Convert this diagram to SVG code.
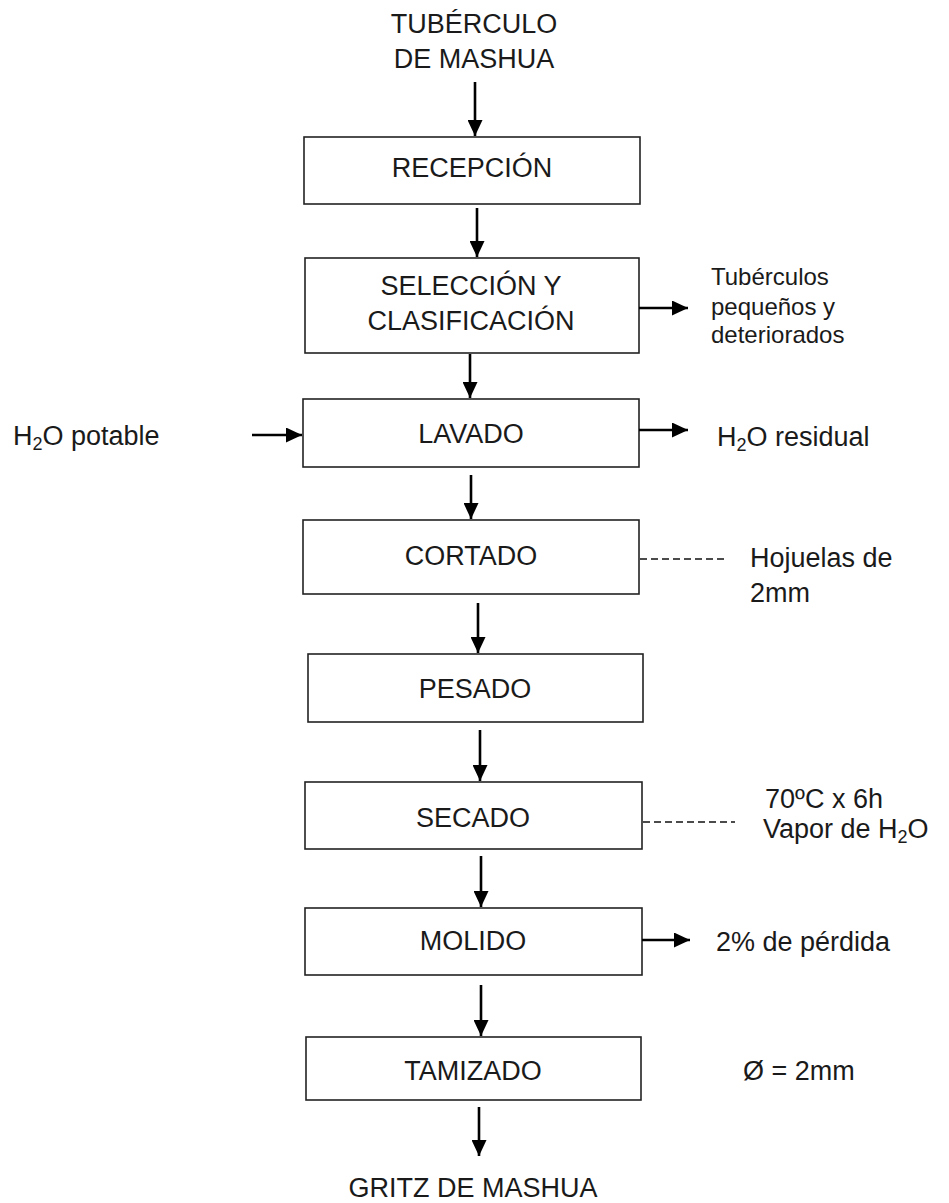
<svg xmlns="http://www.w3.org/2000/svg" width="949" height="1203" viewBox="0 0 949 1203">
<style>
.box{fill:#fff;stroke:#222;stroke-width:1.6}
.t{font-family:"Liberation Sans",Arial,sans-serif;font-size:27px;fill:#1a1a1a}
.tc{text-anchor:middle}
.s{font-size:24px}
.sub{font-size:18px}
.arr{stroke:#000;stroke-width:2.6;fill:none;marker-end:url(#ah)}
.dash{stroke:#111;stroke-width:1.4;stroke-dasharray:7 4;fill:none}
</style>
<defs>
<marker id="ah" markerUnits="userSpaceOnUse" markerWidth="17" markerHeight="15" refX="16" refY="7.5" orient="auto">
<path d="M0,0 L16,7.5 L0,15 Z" fill="#000"/>
</marker>
</defs>
<rect width="949" height="1203" fill="#fff"/>

<g id="inicio">
<text class="t tc" x="474" y="33">TUBÉRCULO</text>
<text class="t tc" x="474" y="68">DE MASHUA</text>
</g>
<g id="recepcion">
<rect class="box" x="304" y="137" width="336" height="67"/>
<text class="t tc" x="472" y="177">RECEPCIÓN</text>
</g>
<g id="seleccion">
<rect class="box" x="305" y="258" width="334" height="95"/>
<text class="t tc" x="471" y="295">SELECCIÓN Y</text>
<text class="t tc" x="471" y="330">CLASIFICACIÓN</text>
</g>
<g id="descarte">
<text class="t s" x="711" y="285">Tubérculos</text>
<text class="t s" x="711" y="315">pequeños y</text>
<text class="t s" x="711" y="343">deteriorados</text>
</g>
<g id="lavado">
<rect class="box" x="303" y="399" width="336" height="68"/>
<text class="t tc" x="471" y="443">LAVADO</text>
</g>
<g id="agua-potable">
<text class="t" x="13" y="445">H<tspan class="sub" dy="5">2</tspan><tspan dy="-5">O potable</tspan></text>
</g>
<g id="agua-residual">
<text class="t" x="717" y="446">H<tspan class="sub" dy="5">2</tspan><tspan dy="-5">O residual</tspan></text>
</g>
<g id="cortado">
<rect class="box" x="303" y="520" width="336" height="74"/>
<text class="t tc" x="471" y="565">CORTADO</text>
</g>
<g id="hojuelas">
<text class="t" x="750" y="567">Hojuelas de</text>
<text class="t" x="750" y="602">2mm</text>
</g>
<g id="pesado">
<rect class="box" x="308" y="654" width="335" height="68"/>
<text class="t tc" x="475" y="698">PESADO</text>
</g>
<g id="secado">
<rect class="box" x="305" y="782" width="337" height="67"/>
<text class="t tc" x="473" y="827">SECADO</text>
</g>
<g id="cond-secado">
<text class="t" x="765" y="808">70ºC x 6h</text>
<text class="t" x="763" y="838">Vapor de H<tspan class="sub" dy="5">2</tspan><tspan dy="-5">O</tspan></text>
</g>
<g id="molido">
<rect class="box" x="305" y="908" width="337" height="67"/>
<text class="t tc" x="473" y="950">MOLIDO</text>
</g>
<g id="perdida">
<text class="t" x="716" y="951">2% de pérdida</text>
</g>
<g id="tamizado">
<rect class="box" x="306" y="1037" width="335" height="63"/>
<text class="t tc" x="473" y="1080">TAMIZADO</text>
</g>
<g id="malla">
<text class="t" x="743" y="1080">Ø = 2mm</text>
</g>
<g id="fin">
<text class="t tc" x="473" y="1197">GRITZ DE MASHUA</text>
</g>

<g id="connectors">
<line class="arr" x1="475" y1="82" x2="475" y2="136"/>
<line class="arr" x1="477" y1="208" x2="477" y2="257"/>
<line class="arr" x1="470" y1="354" x2="470" y2="398"/>
<line class="arr" x1="471" y1="475" x2="471" y2="519"/>
<line class="arr" x1="478" y1="603" x2="478" y2="653"/>
<line class="arr" x1="480" y1="730" x2="480" y2="781"/>
<line class="arr" x1="481" y1="856" x2="481" y2="907"/>
<line class="arr" x1="481" y1="985" x2="481" y2="1036"/>
<line class="arr" x1="479" y1="1107" x2="479" y2="1156"/>
<line class="arr" x1="639" y1="308" x2="688" y2="308"/>
<line class="arr" x1="252" y1="435" x2="302" y2="435"/>
<line class="arr" x1="639" y1="430" x2="688" y2="430"/>
<line class="arr" x1="642" y1="940" x2="690" y2="940"/>
<line class="dash" x1="640" y1="559" x2="727" y2="559"/>
<line class="dash" x1="643" y1="822" x2="735" y2="822"/>
</g>
</svg>
